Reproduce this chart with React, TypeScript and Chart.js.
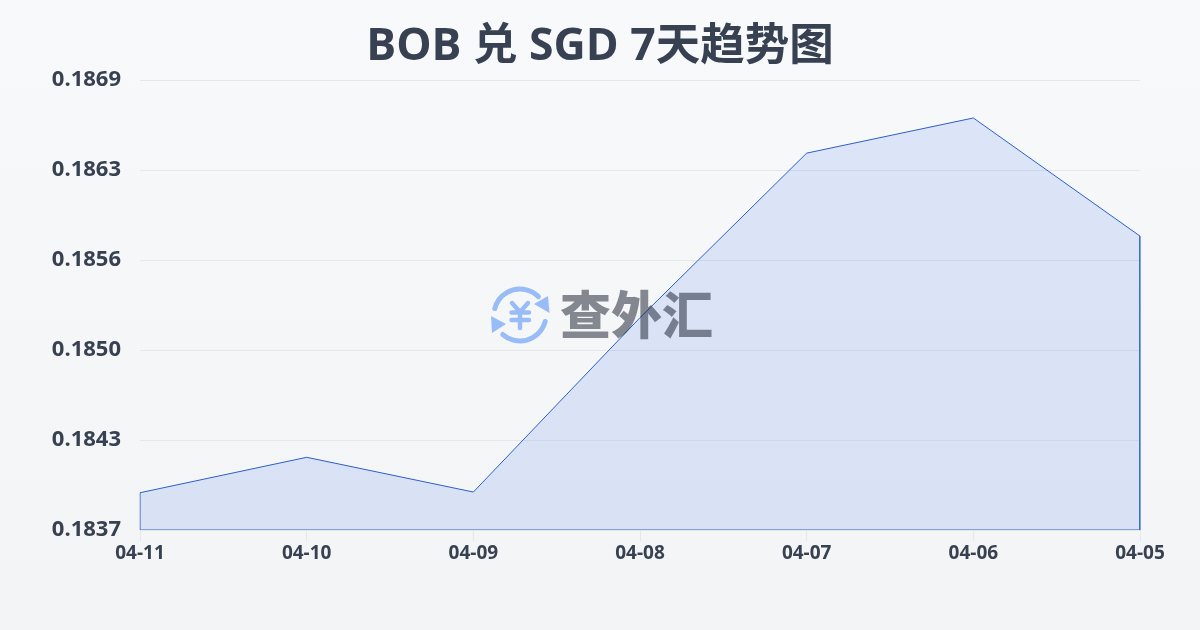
import React, { useEffect, useRef } from "react";
import { Chart, registerables } from "chart.js";

Chart.register(...registerables);

const categories = ["04-11", "04-10", "04-09", "04-08", "04-07", "04-06", "04-05"];
const values = [0.183965, 0.184217, 0.18397, 0.18521, 0.18638, 0.18663, 0.18579];
const yMin = 0.1837;
const yMax = 0.1869;
const yStep = 0.00064;
const titleText = "BOB 兑 SGD 7天趋势图";
const watermarkText = "查外汇";
const FONT = '"Open Sans", "Noto Sans CJK SC", sans-serif';

const outline = [
  { x: categories[0], y: yMin },
  ...categories.map((c, i) => ({ x: c, y: values[i] })),
  { x: categories[categories.length - 1], y: yMin },
  { x: categories[0], y: yMin },
];

const backgroundPlugin = {
  id: "pageBackground",
  beforeDraw(chart: any) {
    const { ctx, width, height } = chart;
    const g = ctx.createLinearGradient(0, 0, 0, height);
    g.addColorStop(0, "#f8f9fb");
    g.addColorStop(1, "#f3f4f6");
    ctx.save();
    ctx.fillStyle = g;
    ctx.fillRect(0, 0, width, height);
    ctx.restore();
  },
};

const watermarkPlugin = {
  id: "watermark",
  afterDraw(chart: any) {
    const { ctx } = chart;
    ctx.save();
    ctx.globalAlpha = 0.5;
    const cx = 520;
    const cy = 315;
    const blue = "#3b82f6";
    ctx.strokeStyle = blue;
    ctx.fillStyle = blue;
    ctx.lineWidth = 5;
    ctx.lineCap = "round";
    ctx.beginPath();
    ctx.arc(cx, cy, 26, Math.PI * 1.08, Math.PI * 1.75);
    ctx.stroke();
    ctx.beginPath();
    ctx.arc(cx, cy, 26, Math.PI * 0.08, Math.PI * 0.73);
    ctx.stroke();
    ctx.beginPath();
    ctx.moveTo(548, 296);
    ctx.lineTo(549.5, 313);
    ctx.lineTo(534, 304);
    ctx.closePath();
    ctx.fill();
    ctx.beginPath();
    ctx.moveTo(491, 316);
    ctx.lineTo(492, 333);
    ctx.lineTo(506, 324);
    ctx.closePath();
    ctx.fill();
    ctx.lineWidth = 4.4;
    ctx.beginPath();
    ctx.moveTo(512, 303);
    ctx.lineTo(520, 312);
    ctx.lineTo(528, 303);
    ctx.moveTo(520, 312);
    ctx.lineTo(520, 328);
    ctx.moveTo(511.5, 312.5);
    ctx.lineTo(529, 312.5);
    ctx.moveTo(511.5, 320);
    ctx.lineTo(529, 320);
    ctx.stroke();
    ctx.fillStyle = "#111827";
    ctx.textBaseline = "middle";
    ctx.textAlign = "left";
    ctx.font = '900 51px "Noto Sans CJK SC", sans-serif';
    ctx.fillText(watermarkText, 560, 315);
    ctx.restore();
  },
};

export default function App() {
  const ref = useRef<HTMLCanvasElement>(null);
  useEffect(() => {
    document.body.style.margin = "0";
    const chart = new Chart(ref.current!, {
      type: "line",
      data: {
        labels: categories,
        datasets: [
          {
            data: values,
            borderWidth: 0,
            backgroundColor: "rgba(37,99,235,0.13)",
            fill: "start",
            tension: 0,
            pointRadius: 0,
          },
          {
            data: outline as any,
            borderColor: "#2d5fc8",
            borderWidth: 1,
            fill: false,
            tension: 0,
            pointRadius: 0,
          },
        ],
      },
      options: {
        responsive: false,
        animation: false,
        layout: { padding: 0 },
        plugins: {
          legend: { display: false },
          tooltip: { enabled: false },
          title: {
            display: true,
            text: titleText,
            color: "#374151",
            font: { family: FONT, size: 44.5, weight: "bold" },
            padding: { top: 21, bottom: 5.6 },
          },
        },
        scales: {
          x: {
            type: "category",
            offset: false,
            grid: { display: true, drawOnChartArea: false, drawTicks: true, tickLength: 11, color: "#e5e7eb" },
            border: { display: false },
            ticks: {
              color: "#374151",
              font: { family: FONT, size: 19, weight: "bold" },
              maxRotation: 0,
              autoSkip: false,
              padding: 1,
            },
            afterFit(axis: any) {
              axis.height = 100;
            },
          },
          y: {
            min: yMin,
            max: yMax,
            afterBuildTicks(axis: any) {
              axis.ticks = [0, 1, 2, 3, 4, 5].map((i) => ({ value: yMin + i * yStep }));
            },
            grid: { color: "#e5e7eb", drawTicks: false },
            border: { display: false },
            ticks: {
              color: "#374151",
              font: { family: FONT, size: 22, weight: "bold" },
              padding: 19,
              callback: (v: any) => Number(v).toFixed(4),
            },
            afterFit(axis: any) {
              axis.width = 140;
            },
          },
          rightGutter: {
            position: "right",
            display: true,
            grid: { display: false },
            border: { display: false },
            ticks: { display: false },
            afterFit(axis: any) {
              axis.width = 60;
            },
          },
        },
      },
      plugins: [backgroundPlugin, watermarkPlugin],
    } as any);
    return () => chart.destroy();
  }, []);
  return <canvas ref={ref} width={1200} height={630} style={{ display: "block" }} />;
}
